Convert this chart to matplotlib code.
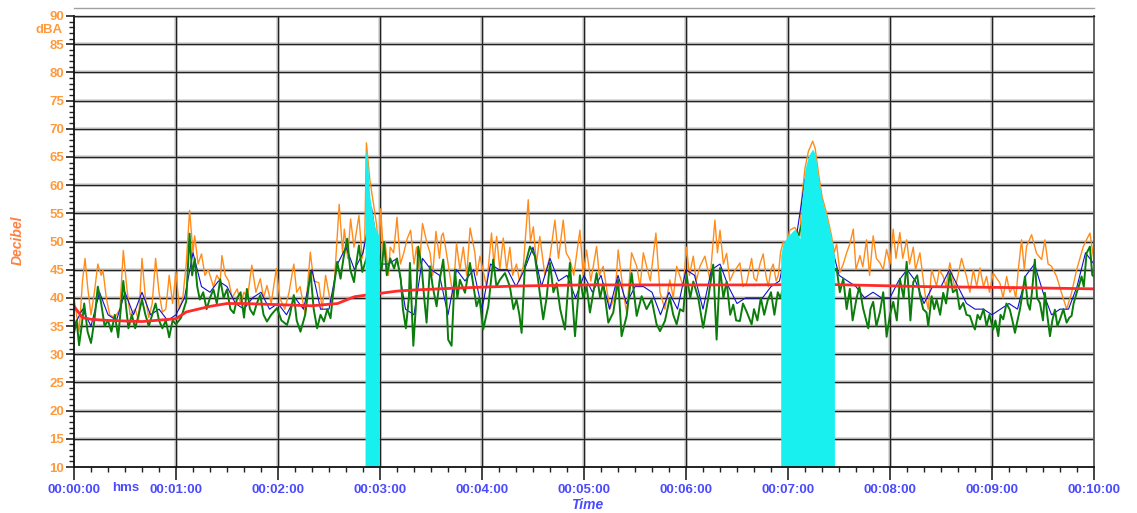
import numpy as np
import matplotlib
matplotlib.use("Agg")
import matplotlib.pyplot as plt
from matplotlib.ticker import MultipleLocator

plt.rcParams['font.family'] = ['Liberation Sans', 'DejaVu Sans']

# seconds from start, values in dBA
t_max = [0, 2, 3, 5, 6.5, 8, 10, 12, 14, 16, 17, 19, 21, 24, 27, 29, 31, 33, 36, 38, 40, 42, 44, 46, 48, 50,
         52, 54, 56, 58, 60, 62, 64, 66, 68, 70, 71, 73, 75, 77, 79, 82, 84, 86, 87, 89, 91, 93, 96, 98, 100,
         102, 104.6, 107, 109.6, 111.5, 113.5, 116, 119, 121, 124, 126.5, 129.3, 131, 133, 136, 139, 141, 144,
         146, 148, 151, 153, 156, 158, 159, 161, 162.7, 164.7, 167.6, 169.5, 171, 172, 174, 176, 178, 179.5,
         180.4, 182, 183, 185, 186, 188, 190, 192, 194, 196, 198, 200, 201.5, 203, 205, 207.4, 209.4, 211,
         212.9, 215, 216.2, 217.2, 220.1, 223, 225, 227, 229, 231, 233, 235.8, 237, 238.8, 242.7, 245.6, 247,
         248.6, 250.5, 252.5, 254.5, 256.4, 258, 260.3, 262, 264.3, 267.2, 268.5, 270.2, 272, 274, 277, 280,
         282.9, 285, 287.8, 289.5, 291.7, 294, 297.6, 299.5, 301.5, 304, 307.4, 309, 311.3, 315.2, 318.2,
         320.1, 323.1, 325.1, 328, 331, 333, 334.9, 336.8, 339, 342.3, 344.7, 347.6, 350.5, 352.5, 354.5,
         358.4, 360.3, 362, 364.3, 366, 368.2, 371.1, 374.1, 377, 378.5, 380, 382, 383.9, 385.8, 387.8, 391.7,
         393.5, 395.6, 398.6, 400, 401.5, 403.5, 405.4, 407, 408.4, 410, 411.3, 413, 414.3, 415.6, 417.2, 419,
         421, 424, 427, 428, 430, 432, 434.5, 436, 438, 440, 442.7, 445.6, 447.2, 448.6, 450.5, 452.5, 454.5,
         456.4, 458.4, 460, 462.3, 464, 466.2, 468, 470.1, 472, 474.1, 476, 478, 480, 481.9, 483.5, 485.8,
         487.5, 489.8, 491.5, 493.7, 495, 497.6, 500.5, 502.5, 504.5, 507.4, 509, 511.3, 513, 515.2, 518.2,
         520, 522.1, 525, 527, 529, 531, 532.9, 535, 536.8, 538.5, 540.7, 544.7, 546.5, 548.6, 550.5, 552.5,
         554, 555.4, 557.4, 559, 560.3, 563.3, 566.2, 569.2, 571.1, 573, 575, 578, 580.9, 583.9, 586.8, 589.8,
         593.7, 595.6, 597.6, 599.6, 600]
lmax = [40, 36, 34, 43, 47, 42, 37, 41, 46, 44, 45, 40, 37, 36.5, 38, 48.4, 42, 37, 38, 36, 47, 40, 36.5, 39, 47, 41,
        37.5, 38, 44, 39, 44.6, 38, 40, 46, 55.5, 48, 51, 46, 47.8, 44, 45, 42, 44, 43, 47.5, 44, 43, 40, 41.6, 39, 41,
        40, 45.8, 41, 43.4, 40, 42.2, 39, 45.2, 40, 38, 41, 46, 41, 42, 37, 48.1, 43, 42.7,
        38, 44, 39, 42, 56.6, 48, 52.2, 47, 54, 49, 54.6, 47, 50, 67.5, 61, 57, 53, 47,
        55.8, 48, 50, 44, 49, 48, 54.3, 46, 48, 50.5, 52, 46, 49, 45, 53.2, 50, 48, 44,
        51.8, 47, 51, 51.5, 46, 40.3, 49.7, 45, 49, 44, 52.4, 48, 44, 47.4, 42, 51.5, 46,
        50.9, 45, 50.6, 45, 49, 44, 46, 43, 45.6, 57.4, 50, 52.6, 46, 50.9, 44, 47.4,
        53.8, 47, 53.8, 48, 46.8, 44, 52, 44, 48.5, 43, 49.1, 44, 45.6, 38, 40.3,
        48.5, 41, 37.4, 48, 45.6, 42, 48, 45.6, 43, 51.5, 41, 38, 43.2, 40, 45.6,
        42, 49, 44, 47.4, 43, 45.6, 47.4, 43.2, 53.8, 48, 52, 46, 47.9, 43, 44.4, 46.2,
        42, 42.6, 47, 43.5, 43, 46, 47.8, 44, 42, 45, 46, 43, 44, 48, 50, 49,
        52, 52.5, 51, 57.5, 63, 66, 67.8, 66.5, 62, 58, 55, 51, 48, 49.6, 44.5, 46, 48,
        49.6, 52.2, 45, 47.5, 45.5, 50.3, 44, 51, 47, 46.2, 45, 48.6, 46, 52.2, 47, 51.6,
        47, 50.3, 46, 49, 45, 48, 40.9, 38, 45, 42.1, 45, 43.8, 42, 46.2, 41.5,
        44, 47, 43.8, 41, 45, 42, 45.3, 42, 43.8, 41, 44.4, 42.6, 40, 43.8, 41, 42,
        40, 44.8, 50.3, 45, 49.1, 51.2, 47.9, 46.8, 50.3, 46, 45.6, 43.8, 40.9, 38, 40.9, 45,
        49.1, 50.3, 51.5, 47.4, 46]

t_min = [0, 1.5, 3, 4.5, 6, 8, 10, 12, 14, 16, 18, 20, 22, 24, 26, 27.5, 29, 32, 34, 36, 38, 40, 42, 44, 46, 48,
         50, 52, 54, 56, 58, 60, 63, 66, 68, 69.5, 71, 72.5, 74, 76, 78, 80, 82, 84, 86, 88, 90, 92, 94, 96, 98,
         100, 101.7, 103.5, 105.6, 107.5, 109.6, 111.5, 113.5, 116, 119.4, 122, 125.3, 127, 129.3, 131, 133.2,
         136, 139.1, 141, 143, 145, 147, 149, 150.9, 152.5, 154.8, 156.8, 158.5, 160.7, 162.5, 164.7, 166,
         167.6, 169.6, 171, 175, 179.6, 181, 182.4, 184, 186, 188.3, 190, 192.2, 193.5, 195.2, 197, 197.6,
         199.6, 201, 202.5, 204.5, 206, 207.4, 209.4, 211, 213.3, 215, 217.2, 219, 220.1, 222.1, 224.1, 225.5,
         227, 230, 232.9, 235, 236.8, 238.5, 240.7, 243.7, 246.6, 248.5, 250.5, 253.5, 256.4, 258.5, 260.3,
         262, 263.3, 265.2, 268.2, 271.1, 273.5, 276, 278, 280, 282, 283.9, 286, 288.8, 291.7, 294.7, 296.5,
         297.6, 299.5, 301.5, 303.5, 305.5, 307.4, 309.5, 311.3, 314.3, 317.2, 320.1, 322.1, 325.1, 328, 331,
         333.9, 336.8, 339.8, 342.7, 344.7, 347.6, 350.5, 352.5, 354.5, 356.5, 358.4, 360.3, 362.5, 364.3,
         367.2, 370.1, 373.1, 376, 378, 380, 382, 383.9, 386, 387.8, 389.5, 391.7, 393.5, 395.6, 398.6, 400,
         402, 404, 406, 408, 410, 412, 414, 415.5, 430, 447, 448.6, 450.5, 452.5, 454.5, 456.4, 458, 460.3, 462,
         464.2, 466, 467.2, 468.5, 470.1, 472, 474.1, 476, 478, 480, 481.9, 484, 485.8, 488, 489.8, 491, 492,
         493.7, 496, 497.6, 499.5, 501.5, 502.5, 504.5, 506, 507.4, 509.5, 511.3, 513, 515.2, 517, 519.2, 521,
         523.1, 525, 527, 529, 530, 531.5, 533, 535, 536.8, 538.5, 540.7, 542, 543.7, 545, 546.6, 548.5, 550.5,
         552, 553.5, 555, 556.4, 557.5, 559.4, 561, 562.3, 563.5, 565.2, 566.5, 568.2, 570, 571.1, 572.5,
         574.1, 575.5, 577, 578.5, 580, 582, 583.9, 585.5, 586.8, 588, 589.8, 591, 592.7, 594, 595.6, 597.6,
         599, 600]
lmin = [33.7, 36, 31.6, 35, 39, 34, 32, 36, 42, 39, 35, 36, 34, 37, 33, 38, 43, 34.6, 37, 34.6, 37, 39.7, 37, 35, 37, 39,
        36, 34.6, 36, 33, 36, 35.3, 36.5, 39.4, 51.4, 44, 47, 42, 39.7, 41, 38, 40, 41.5, 39, 43.3, 40, 41.5, 38, 37.3, 40, 41,
        36.5, 41.6, 38, 37, 39, 40.5, 37, 35.8, 37, 38.2, 36, 35.2, 37, 40.5, 36, 34,
        37, 44.6, 38, 34.6, 37, 35.8, 38, 36.4, 41, 46.4, 43.4, 47, 50.5, 45, 42.8, 46,
        49.3, 44.6, 46, 50, 47, 45, 49.9, 44, 47, 45.2, 47, 43.4, 38, 34.6, 40, 46.2,
        31.5, 38, 49.1, 45.6, 40, 35.6, 45.6, 42, 38.5, 43, 46.8, 40, 32.6, 31.5, 45, 40,
        43.2, 40.9, 46.2, 42, 38.5, 40, 34.4, 38.5, 46.8, 42, 43.2, 44.4, 42, 38, 39.7,
        37, 33.8, 45.6, 49.1, 47.4, 42, 36.2, 40, 46.2, 41, 42.6, 38, 34.4, 46.2, 33.2, 40,
        44, 40, 42.1, 37.4, 41, 44.4, 40, 42.6, 35.6, 37.4, 43.2, 33.2, 36.8, 44.4, 36.8,
        40.3, 38, 39.7, 35.3, 34.1, 35.9, 40, 37, 35.3, 38, 37.6, 44.1, 40, 42.9,
        40, 34.7, 40, 45.9, 32.6, 45.3, 40, 42.9, 37, 38.8, 36, 35.9, 39, 37.6, 35.3, 38,
        36, 40, 37, 39.5, 41, 37, 41, 40, 55, 45, 45.2, 41, 43.4, 38, 41.6, 36, 39.9, 42,
        38.1, 36, 34.6, 38, 39.3, 35, 37.5, 41, 33.1, 37, 39.3, 36, 43.4, 40, 46.4, 41, 36,
        42.8, 44, 40.5, 38, 37.4, 35, 40.3, 38, 39.7, 37, 40.9, 39, 44.4, 41, 41.5, 38,
        39.1, 37, 36.8, 35, 34.4, 37, 36.2, 38, 35, 37, 34.4, 36, 33.2, 37, 36.2, 39, 37.9,
        36, 33.8, 36, 37.9, 40, 43.8, 39, 37.9, 41, 46.8, 40, 39.1, 36, 40.9, 37,
        33.2, 36, 37.9, 35, 36.2, 38, 35.6, 36.5, 36.8, 39, 40.9, 42, 43.8, 42, 47.9, 49.1,
        44, 43.8]

t_leq = np.arange(0, 601, 5)
leq = [35, 38, 35, 41, 37, 36, 41, 37, 41, 37, 38, 36, 37, 40, 48, 42, 41, 43, 42, 39,
       38, 40, 41, 38, 39, 37, 40, 38, 45, 38, 38, 46, 49, 45, 48, 56, 46, 46, 47, 38,
       37, 47, 45, 44, 37, 45, 43, 45, 38, 46, 45, 45, 42, 45, 49, 42, 47, 43, 44, 40,
       44, 41, 44, 38, 44, 39, 42, 42, 41, 37, 41, 38, 45, 44, 38, 45, 46, 42, 39, 40,
       40, 40, 42, 43, 50, 51, 61, 65, 57, 50, 44, 43, 42, 40, 41, 40, 40, 43, 45, 43,
       39, 42, 42, 45, 42, 39, 38, 38, 37, 38, 39, 38, 44, 46, 41, 37, 38, 38, 42, 48, 46]

t_run = [0, 5, 10, 20, 40, 60, 66, 80, 90, 100, 120, 140, 155, 165, 172, 180, 190, 200, 230, 260, 300, 400,
         440, 500, 560, 600]
run_leq = [38.5, 36.5, 36.2, 36, 35.8, 36.3, 37.5, 38.5, 39, 39, 38.8, 38.6, 39, 40.2, 40.5, 40.8, 41.2, 41.4,
           41.8, 42.1, 42.3, 42.3, 42.4, 42.0, 41.8, 41.6]

# marked events (cyan)
t_ev1 = [171.2, 172.2, 174, 175.5, 177, 178.5, 179.6]
ev1 = [65, 66.5, 58, 55, 52.6, 51.5, 51]
t_ev2 = [415.7, 417, 420, 424, 427, 428, 430, 432, 434.5, 436, 438, 440, 442.7, 445.6, 447.3]
ev2 = [47.5, 49.6, 51, 52.2, 50.5, 57, 62.8, 65.2, 66.4, 65.5, 61, 57.5, 54.4, 50.5, 47.5]

xtick_pos = np.arange(0, 601, 60)
xtick_lab = ['00:00:00', '00:01:00', '00:02:00', '00:03:00', '00:04:00', '00:05:00',
             '00:06:00', '00:07:00', '00:08:00', '00:09:00', '00:10:00']

orange_txt = '#ff9a3c'
blue_txt = '#4a4aff'

fig = plt.figure(figsize=(11.37, 5.13), dpi=100)
ax = fig.add_axes([74 / 1137, 1 - 467 / 513, 1020 / 1137, 451 / 513])

# grid
for yv in range(15, 91, 5):
    ax.axhline(yv, color='#d4d4d4', lw=2.6, zorder=0.5)
    ax.axhline(yv, color='#222222', lw=1.0, zorder=1)
for xv in xtick_pos[1:-1]:
    ax.axvline(xv, color='#d4d4d4', lw=2.6, zorder=0.5)
    ax.axvline(xv, color='#222222', lw=1.0, zorder=1)

ax.plot(t_max, lmax, color='#ff8c1a', lw=1.0, zorder=2)
ax.plot(t_leq, leq, color='#1010d0', lw=0.8, zorder=3)
ax.plot(t_min, lmin, color='#0a7d0a', lw=1.4, zorder=4)
ax.plot(t_run, run_leq, color='#ff2a2a', lw=2.0, zorder=5)
ax.fill_between(t_ev1, 10, ev1, color='#18f0f0', lw=0, zorder=6)
ax.fill_between(t_ev2, 10, ev2, color='#18f0f0', lw=0, zorder=6)

ax.set_xlim(0, 600)
ax.set_ylim(10, 90)

ax.xaxis.set_major_locator(MultipleLocator(60))
ax.xaxis.set_minor_locator(MultipleLocator(10))
ax.yaxis.set_major_locator(MultipleLocator(5))
ax.yaxis.set_minor_locator(MultipleLocator(1))
ax.set_xticks(xtick_pos)
ax.set_xticklabels(xtick_lab)

ax.tick_params(axis='x', which='major', length=9, width=1.2, color='#222222', pad=3,
               labelsize=9.5, labelcolor=blue_txt)
ax.tick_params(axis='x', which='minor', length=3.5, width=1.0, color='#222222')
ax.tick_params(axis='y', which='major', length=6, width=1.2, color='#222222', pad=1,
               labelsize=9.5, labelcolor=orange_txt)
ax.tick_params(axis='y', which='minor', length=3.5, width=1.0, color='#222222')
for lab in ax.get_xticklabels() + ax.get_yticklabels():
    lab.set_fontweight('bold')

for s in ['left', 'bottom']:
    ax.spines[s].set_color('#111111')
    ax.spines[s].set_linewidth(1.3)
ax.spines['right'].set_color('#555555')
ax.spines['right'].set_linewidth(1.3)
ax.spines['top'].set_color('#222222')
ax.spines['top'].set_linewidth(1.0)
for s in ax.spines.values():
    s.set_zorder(7)

ax.text(-0.011, 87.6, 'dBA', transform=ax.get_yaxis_transform(), ha='right', va='center',
        color=orange_txt, fontsize=9.5, fontweight='bold')
fig.text(126 / 1137, 1 - 488 / 513, 'hms', ha='center', va='center',
         color=blue_txt, fontsize=9.5, fontweight='bold')

fig.text(18 / 1137, 1 - 240 / 513, 'Decibel', rotation=90, ha='center', va='center',
         color='#ff8040', fontsize=10, fontweight='bold', style='italic')
fig.text(587 / 1137, 1 - 505 / 513, 'Time', ha='center', va='center',
         color=blue_txt, fontsize=10, fontweight='bold', style='italic')

fig.add_artist(plt.Line2D([74 / 1137, 1094 / 1137], [1 - 8 / 513, 1 - 8 / 513],
                          color='#a0a0a0', lw=1.0))

fig.savefig('out.png', dpi=100)
